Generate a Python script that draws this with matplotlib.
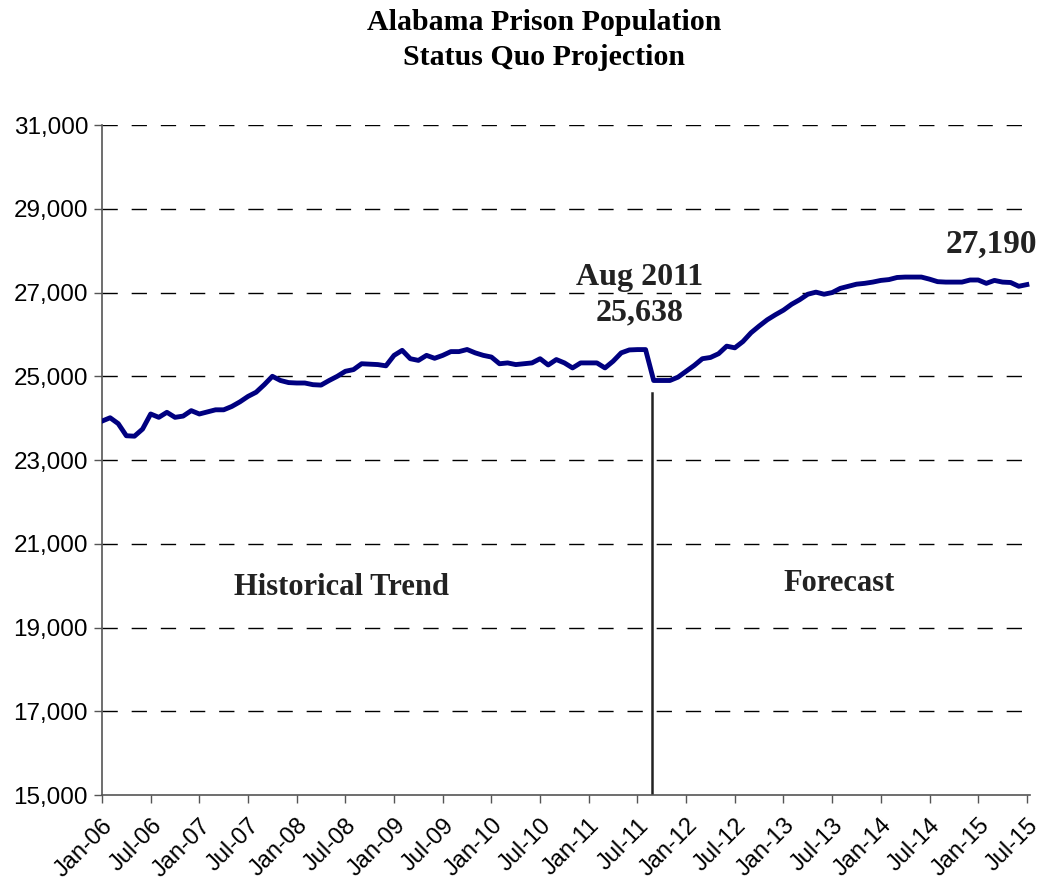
import numpy as np
import matplotlib
matplotlib.use('Agg')
import matplotlib.pyplot as plt
from matplotlib.ticker import FuncFormatter

# monthly prison population, Jan-06 .. Jul-15
population = [
    23930, 24010, 23870, 23580, 23570, 23740, 24100, 24020, 24140, 24020,
    24050, 24180, 24100, 24150, 24200, 24200, 24280, 24390, 24520, 24620,
    24800, 25000, 24900, 24850, 24840, 24840, 24800, 24790, 24900, 25000,
    25120, 25160, 25300, 25290, 25280, 25250, 25500, 25620, 25420, 25380,
    25500, 25430, 25500, 25590, 25590, 25640, 25560, 25500, 25460, 25300,
    25320, 25280, 25300, 25320, 25420, 25270, 25400, 25320, 25200, 25320,
    25320, 25320, 25200, 25360, 25560, 25630, 25638, 25638, 24900, 24900,
    24900, 24980, 25120, 25260, 25420, 25450, 25540, 25720, 25680, 25830,
    26040, 26200, 26350, 26470, 26580, 26720, 26830, 26960, 27010, 26960,
    27000, 27100, 27150, 27200, 27220, 27250, 27290, 27310, 27360, 27370,
    27370, 27370, 27320, 27260, 27250, 27250, 27250, 27300, 27300, 27220,
    27290, 27250, 27240, 27150, 27190,
]
tick_labels = ['Jan-06', 'Jul-06', 'Jan-07', 'Jul-07', 'Jan-08', 'Jul-08',
               'Jan-09', 'Jul-09', 'Jan-10', 'Jul-10', 'Jan-11', 'Jul-11',
               'Jan-12', 'Jul-12', 'Jan-13', 'Jul-13', 'Jan-14', 'Jul-14',
               'Jan-15', 'Jul-15']
y_ticks = list(range(15000, 31001, 2000))
split_idx = 67   # Aug 2011, last observed month

months = np.arange(len(population))

fig = plt.figure(figsize=(10.44, 8.82), dpi=100)
ax = fig.add_axes([0.0977, 0.0986, 0.889, 0.7596])

for v in y_ticks[1:]:
    ax.axhline(v, color='black', lw=1.0, ls=(0, (11, 10)), zorder=1)

ax.plot(months, population, color='#000080', lw=3.5, solid_joinstyle='round', zorder=3)

# divider between history and forecast
ax.plot([split_idx + 0.8, split_idx + 0.8], [15000, 24600], color='#222222', lw=1.8, zorder=2)

ax.set_xlim(0, 114.4)
ax.set_ylim(15000, 31000)
ax.set_xticks(np.arange(0, 115, 6))
ax.set_xticklabels(tick_labels, rotation=45, ha='right', rotation_mode='anchor',
                   fontsize=17, family='Liberation Sans')
ax.set_yticks(y_ticks)
ax.yaxis.set_major_formatter(FuncFormatter(lambda v, p: f'{int(v):,}'))
for lbl in ax.get_yticklabels():
    lbl.set_fontsize(17.5)
    lbl.set_family('Liberation Sans')
ax.tick_params(axis='both', direction='out', length=6, width=1, color='#555555')
ax.tick_params(axis='x', pad=8)
ax.tick_params(axis='y', pad=4)
ax.spines['top'].set_visible(False)
ax.spines['right'].set_visible(False)
ax.spines['left'].set_color('#555555')
ax.spines['bottom'].set_color('#555555')
ax.spines['left'].set_linewidth(1.2)
ax.spines['bottom'].set_linewidth(1.2)

serif = 'Liberation Serif'
fig.text(0.521, 0.99, 'Alabama Prison Population\nStatus Quo Projection', ha='center', va='top',
         fontsize=21.5, fontweight='bold', family=serif, linespacing=1.4)

ax.text(split_idx - 0.7, 26930, 'Aug 2011\n25,638', ha='center', va='center', fontsize=23,
        fontweight='bold', family=serif, color='#222222', linespacing=1.3)
ax.text(109.6, 28150, '27,190', ha='center', va='center', fontsize=24,
        fontweight='bold', family=serif, color='#222222')
ax.text(29.5, 19950, 'Historical Trend', ha='center', va='center', fontsize=22,
        fontweight='bold', family=serif, color='#222222')
ax.text(90.8, 20050, 'Forecast', ha='center', va='center', fontsize=22,
        fontweight='bold', family=serif, color='#222222')

fig.savefig('out.png', dpi=100)
